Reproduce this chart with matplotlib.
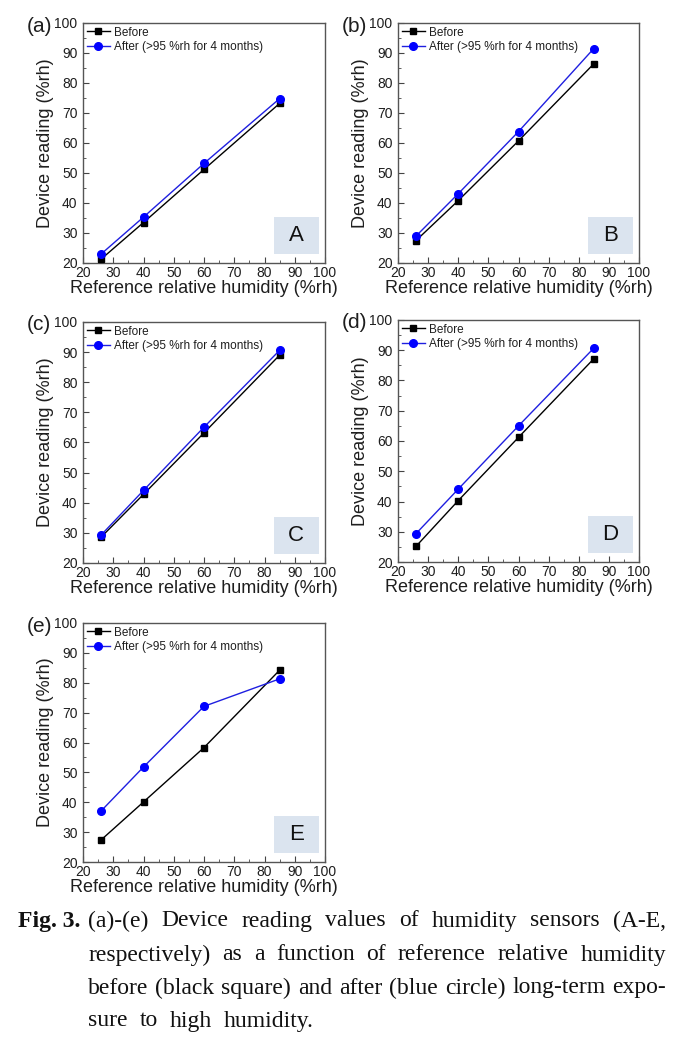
import matplotlib
matplotlib.use('Agg')
import matplotlib.pyplot as plt
from matplotlib.patches import Rectangle
from matplotlib.ticker import MultipleLocator

# reference humidity points (%rh)
ref_rh = [26, 40, 60, 85]

# device readings (%rh), before and after long-term exposure
sensors = ['A', 'B', 'C', 'D', 'E']
panel_tags = ['(a)', '(b)', '(c)', '(d)', '(e)']
before_A = [21.3, 33.5, 51.2, 73.2]
after_A = [23.0, 35.3, 53.2, 74.8]
before_B = [27.5, 40.8, 60.7, 86.4]
after_B = [29.0, 43.1, 63.8, 91.5]
before_C = [28.6, 42.8, 63.2, 89.0]
after_C = [29.3, 44.1, 65.1, 90.6]
before_D = [25.2, 40.3, 61.2, 87.2]
after_D = [29.4, 44.1, 65.0, 90.7]
before_E = [27.4, 40.1, 58.3, 84.2]
after_E = [37.1, 51.8, 72.1, 81.3]

before_all = [before_A, before_B, before_C, before_D, before_E]
after_all = [after_A, after_B, after_C, after_D, after_E]

caption_lines = [
    '(a)-(e) Device reading values of humidity sensors (A-E,',
    'respectively) as a function of reference relative humidity',
    'before (black square) and after (blue circle) long-term expo-',
    'sure to high humidity.',
]

W_PX, H_PX = 680, 1055
plt.rcParams['font.family'] = ['Liberation Sans', 'DejaVu Sans']
TXT = '#1e1e1e'

fig = plt.figure(figsize=(W_PX / 100, H_PX / 100), dpi=100)

# axes boxes in pixels: left, top, right, bottom
boxes = [
    (83, 23, 325, 263),
    (398, 23, 639, 263),
    (83, 322, 325, 563),
    (398, 320, 639, 562),
    (83, 623, 325, 862),
]


def px_axes(l, t, r, b):
    return fig.add_axes([l / W_PX, 1 - b / H_PX, (r - l) / W_PX, (b - t) / H_PX])


for i, (l, t, r, b) in enumerate(boxes):
    ax = px_axes(l, t, r, b)
    ax.plot(ref_rh, before_all[i], color='black', lw=1.0, marker='s', ms=5,
            label='Before', zorder=3)
    ax.plot(ref_rh, after_all[i], color='#1f1fe0', lw=1.0, marker='o', ms=5.5,
            mfc='#0000ff', mec='#0000ff', label='After (>95 %rh for 4 months)', zorder=4)
    ax.set_xlim(20, 100)
    ax.set_ylim(20, 100)
    ax.xaxis.set_major_locator(MultipleLocator(10))
    ax.xaxis.set_minor_locator(MultipleLocator(5))
    ax.yaxis.set_major_locator(MultipleLocator(10))
    ax.yaxis.set_minor_locator(MultipleLocator(5))
    ax.tick_params(which='both', direction='in', colors='#444', labelcolor=TXT,
                   labelsize=10)
    ax.tick_params(which='major', length=4)
    ax.tick_params(which='minor', length=2)
    ax.tick_params(axis='x', which='major', pad=2)
    ax.tick_params(axis='y', which='major', pad=4)
    for sp in ax.spines.values():
        sp.set_color('#555')
        sp.set_linewidth(1.0)
    ax.set_xlabel('Reference relative humidity (%rh)', fontsize=13, color=TXT, labelpad=0)
    ax.set_ylabel('Device reading (%rh)', fontsize=13, color=TXT, labelpad=0)
    leg = ax.legend(loc='upper left', frameon=False, fontsize=8.5, handlelength=2.0,
                    handletextpad=0.3, borderaxespad=0.1, borderpad=0.2, labelspacing=0.25)
    for txt in leg.get_texts():
        txt.set_color(TXT)
    ax.add_patch(Rectangle((83, 23), 15, 12.3, facecolor='#dbe4ef', edgecolor='none', zorder=1))
    ax.text(90.5, 29.2, sensors[i], fontsize=16, ha='center', va='center', color='#111', zorder=2)
    fig.text((l - 56) / W_PX, 1 - (t + 3) / H_PX, panel_tags[i], fontsize=15, color=TXT,
             ha='left', va='center')

# caption, justified like the journal text
renderer = fig.canvas.get_renderer()
serif = ['Liberation Serif', 'DejaVu Serif']
cap_size = 17
fig.text(18 / W_PX, 1 - 921 / H_PX, 'Fig. 3.', family=serif, fontsize=cap_size,
         fontweight='bold', va='center', color='#111')
line_y = [921, 955, 988, 1021]
x0, x1 = 88, 666
for k, line in enumerate(caption_lines):
    words = line.split()
    texts = [fig.text(0, 1 - line_y[k] / H_PX, w, family=serif, fontsize=cap_size,
                      va='center', color='#111') for w in words]
    widths = [t.get_window_extent(renderer).width for t in texts]
    if k < len(caption_lines) - 1:
        gap = (x1 - x0 - sum(widths)) / (len(words) - 1)
    else:
        gap = 12
    x = x0
    for t, w in zip(texts, widths):
        t.set_x(x / W_PX)
        x += w + gap

fig.savefig('out.png', dpi=100, facecolor='white')
